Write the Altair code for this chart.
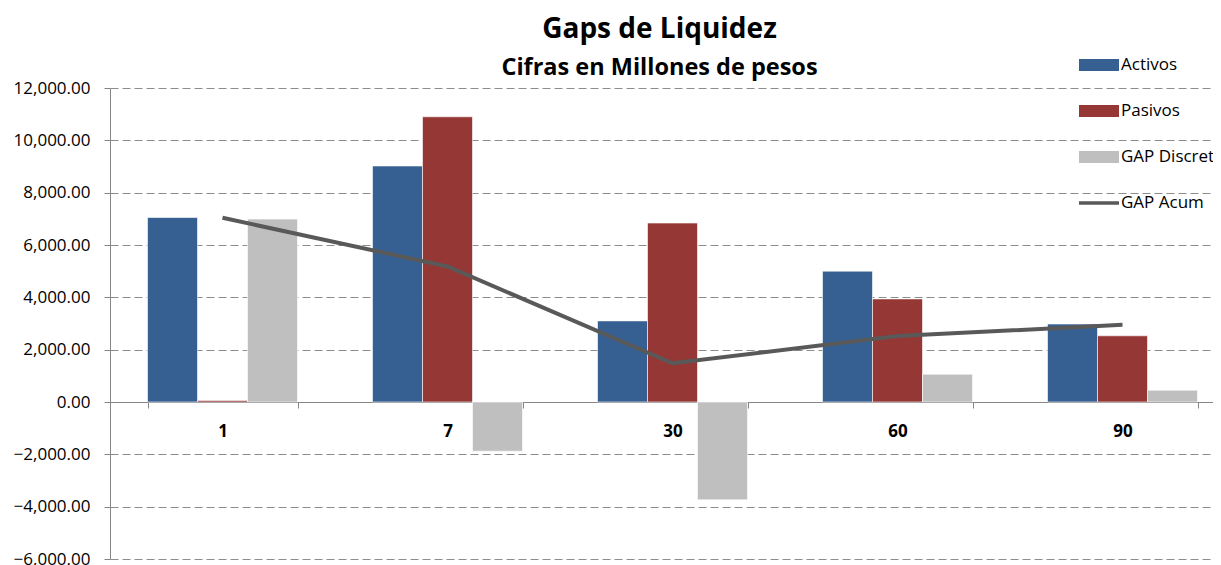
import altair as alt
import pandas as pd

categorias = ["1", "7", "30", "60", "90"]
activos = [7050, 9020, 3100, 5000, 2980]
pasivos = [60, 10900, 6840, 3940, 2530]
gap_discreto = [6990, -1880, -3740, 1060, 450]
gap_acum = [7040, 5180, 1480, 2520, 2950]
series = ["Activos", "Pasivos", "GAP Discreto", "GAP Acum"]
colores = ["#366092", "#953735", "#BFBFBF", "#595959"]
y_ticks = [-6000, -4000, -2000, 0, 2000, 4000, 6000, 8000, 10000, 12000]

rows = []
for i, c in enumerate(categorias):
    for s, v in zip(series[:3], [activos[i], pasivos[i], gap_discreto[i]]):
        rows.append({"plazo": c, "serie": s, "valor": v})
bars_df = pd.DataFrame(rows)
line_df = pd.DataFrame({"plazo": categorias, "serie": ["GAP Acum"] * len(categorias), "valor": gap_acum})

BAND_RANGE = 1125
PLOT_W = 1103
PLOT_H = 471
FONT = "Open Sans"

x_scale = alt.Scale(domain=categorias, range=[0, BAND_RANGE], paddingInner=1 / 3, paddingOuter=1 / 6)
y_scale = alt.Scale(domain=[-6000, 12000], nice=False, zero=False)

color = alt.Color(
    "serie:N",
    scale=alt.Scale(domain=series, range=colores),
    legend=alt.Legend(
        title=None,
        orient="none",
        legendX=969,
        legendY=-43,
        direction="vertical",
        symbolType={"expr": "datum.label === 'GAP Acum' ? 'M-1,-0.09H1V0.09H-1Z' : 'M-1,-0.3H1V0.3H-1Z'"},
        symbolSize=1600,
        symbolStrokeWidth=0,
        symbolOpacity=1,
        labelFontSize=17,
        labelFont=FONT,
        labelColor="black",
        labelOffset=2,
        rowPadding=18,
        padding=0,
    ),
)

x_axis = alt.Axis(
    title=None,
    offset=-157,
    labelAngle=0,
    labelFont=FONT,
    labelFontSize=17,
    labelFontWeight="bold",
    labelColor="black",
    labelPadding=15,
    tickBand="extent",
    tickSize=6,
    tickColor="#868686",
    domainColor="#868686",
    grid=False,
)

y_axis = alt.Axis(
    title=None,
    values=y_ticks,
    format=",.2f",
    labelFont=FONT,
    labelFontSize=17,
    labelColor="black",
    labelPadding=14,
    tickSize=6,
    tickColor="#868686",
    domainColor="#868686",
    gridColor="#8c8c8c",
    gridDash=[8, 4],
    gridWidth=1,
)

bars = alt.Chart(bars_df).mark_bar(stroke="white", strokeWidth=0.6).encode(
    x=alt.X("plazo:N", scale=x_scale, axis=x_axis, sort=categorias),
    xOffset=alt.XOffset("serie:N", scale=alt.Scale(domain=series[:3], paddingInner=0, paddingOuter=0)),
    y=alt.Y("valor:Q", scale=y_scale, axis=y_axis),
    color=color,
)

line = alt.Chart(line_df).mark_line(strokeWidth=4).encode(
    x=alt.X("plazo:N", scale=x_scale, sort=categorias),
    y=alt.Y("valor:Q", scale=y_scale),
    color=color,
)

chart = (
    alt.layer(bars, line)
    .properties(
        width=PLOT_W,
        height=PLOT_H,
        autosize=alt.AutoSizeParams(type="none"),
        padding={"left": 102, "top": 80, "right": 0, "bottom": 6},
        title=alt.TitleParams(
            "Gaps de Liquidez",
            subtitle="Cifras en Millones de pesos",
            font=FONT,
            fontSize=28,
            fontWeight="bold",
            color="black",
            subtitleFont=FONT,
            subtitleFontSize=23.5,
            subtitleFontWeight="bold",
            subtitleColor="black",
            subtitlePadding=12,
            anchor="middle",
            dx=-2,
            offset=-34,
        ),
    )
    .configure_view(stroke=None)
)

chart.save("out.html", embed_options={"renderer": "svg", "actions": False})
